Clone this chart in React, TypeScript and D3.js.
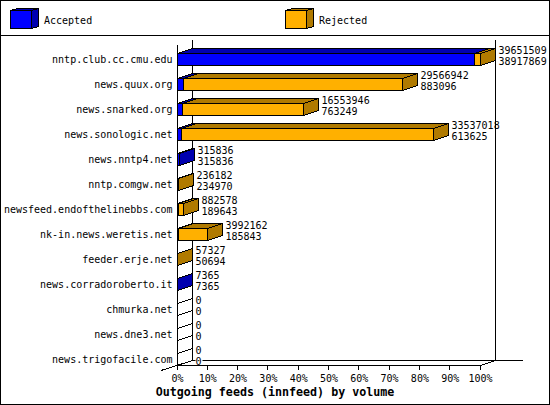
import React from "react";
import * as d3 from "d3";

const hosts = ["nntp.club.cc.cmu.edu","news.quux.org","news.snarked.org","news.sonologic.net","news.nntp4.net","nntp.comgw.net","newsfeed.endofthelinebbs.com","nk-in.news.weretis.net","feeder.erje.net","news.corradoroberto.it","chmurka.net","news.dne3.net","news.trigofacile.com"];
const offered = [39651509,29566942,16553946,33537018,315836,236182,882578,3992162,57327,7365,0,0,0];
const accepted = [38917869,883096,763249,613625,315836,234970,189643,185843,50694,7365,0,0,0];
const pctTicks = [0,10,20,30,40,50,60,70,80,90,100];
const legend = [{ name: "Accepted", x: 10 }, { name: "Rejected", x: 285 }];

const W = 550, H = 405;
const BLUE = "#0000ff", DBLUE = "#0000b0", OR = "#ffb000", DOR = "#b07a00";
const DX = 15, DY = -5, BH = 12;
const mono = "'DejaVu Sans Mono', monospace";

const x = d3.scaleLinear().domain([0, offered[0]]).range([177, 480]);
const xp = d3.scaleLinear().domain([0, 100]).range([177, 480]);
const yc = d3.scalePoint<string>().domain(hosts).range([59, 359]);

function Box({ x0, x1, y, h = BH, dx = DX, dy = DY, front, dark }: any) {
  const p = (a: number[][]) => a.map((q) => q.join(",")).join(" ");
  const s = { stroke: "#000", strokeWidth: 1, shapeRendering: "crispEdges" as const };
  return (
    <g>
      <polygon points={p([[x0, y], [x1, y], [x1 + dx, y + dy], [x0 + dx, y + dy]])} fill={dark} {...s} />
      <polygon points={p([[x1, y], [x1 + dx, y + dy], [x1 + dx, y + h + dy], [x1, y + h]])} fill={dark} {...s} />
      <rect x={x0} y={y} width={x1 - x0} height={h} fill={front} {...s} />
    </g>
  );
}

const px = (v: number) => Math.floor(v) + 0.5;

export default function App() {
  const ln = { stroke: "#000", strokeWidth: 1, shapeRendering: "crispEdges" as const };
  const t = { fontFamily: mono, fontSize: 10, fill: "#000" };
  return (
    <svg width={W} height={H} style={{ position: "absolute", left: 0, top: 0, background: "#fff" }}>
      <rect x={0.5} y={0.5} width={W - 1} height={H - 1} fill="#fff" {...ln} />
      <line x1={0} x2={W} y1={35.5} y2={35.5} {...ln} />
      {legend.map((l, i) => (
        <g key={l.name}>
          <Box x0={l.x + 0.5} x1={l.x + 21.5} y={10.5} h={18} dx={7} dy={-2}
            front={i === 0 ? BLUE : OR} dark={i === 0 ? DBLUE : DOR} />
          <text x={l.x + 34} y={24} {...t}>{l.name}</text>
        </g>
      ))}

      <line x1={192.5} x2={192.5} y1={40} y2={360} {...ln} />
      <line x1={495.5} x2={495.5} y1={40} y2={360} {...ln} />
      <line x1={192} x2={523} y1={360.5} y2={360.5} {...ln} />
      <line x1={161} y1={370.5} x2={192.5} y2={360.5} {...ln} />
      <line x1={480.5} y1={365.5} x2={495.5} y2={360.5} {...ln} />

      {hosts.map((h, i) => {
        const c = yc(h)!;
        const y0 = c - 6 + 0.5;
        const xA = px(x(accepted[i]));
        const xO = px(x(offered[i]));
        const base = px(x(0));
        const hasO = offered[i] > accepted[i];
        const empty = offered[i] === 0;
        const lx = xO + DX + 3;
        return (
          <g key={h}>
            <Box x0={base} x1={xA} y={y0} front={empty ? "none" : BLUE} dark={empty ? "none" : DBLUE} />
            {hasO && <Box x0={xA} x1={xO} y={y0} front={OR} dark={DOR} />}
            <text x={172.5} y={c + 4} textAnchor="end" {...t}>{h}</text>
            <text x={lx} y={c - 5} {...t}>{offered[i]}</text>
            <rect x={lx} y={c - 2} width={String(accepted[i]).length * 6 + 1} height={9} fill="#fff" />
            <text x={lx} y={c + 6} {...t}>{accepted[i]}</text>
          </g>
        );
      })}

      <line x1={177.5} x2={177.5} y1={45} y2={370} {...ln} />
      <line x1={177} x2={481} y1={365.5} y2={365.5} {...ln} />
      {pctTicks.map((p) => (
        <g key={p}>
          <line x1={px(xp(p))} x2={px(xp(p))} y1={365} y2={370} {...ln} />
          <text x={xp(p) + 0.5} y={382} textAnchor="middle" {...t}>{p}%</text>
        </g>
      ))}
      <text x={275} y={396} textAnchor="middle" fontFamily={mono} fontSize={11.67} fontWeight="bold" fill="#000">
        Outgoing feeds (innfeed) by volume
      </text>
    </svg>
  );
}
